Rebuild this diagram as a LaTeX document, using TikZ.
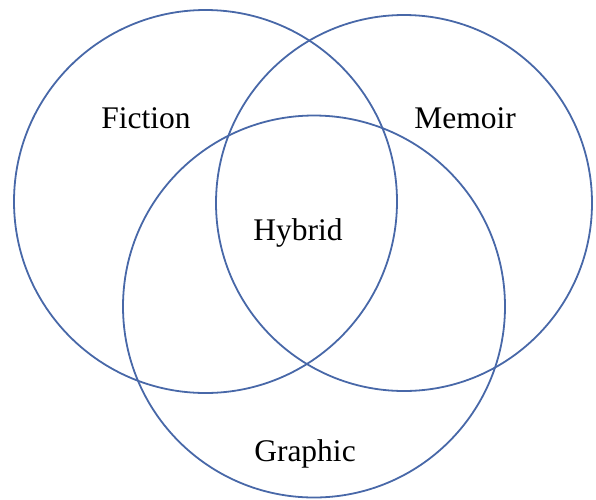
\documentclass[tikz,border=0pt]{standalone}
\usepackage{fontspec}
\setmainfont{Liberation Serif}
\definecolor{ringblue}{RGB}{72,104,168}
\begin{document}
\begin{tikzpicture}[x=1pt,y=-1pt,
  ring/.style={draw=ringblue,line width=1.8pt,circle,inner sep=0pt},
  lbl/.style={font=\fontsize{31.5}{31.5}\selectfont,anchor=base,inner sep=0pt}]
\useasboundingbox (0,0) rectangle (596,499);
\node[ring,minimum size=383pt] (fiction) at (205.5,201.5) {};
\node[ring,minimum size=376pt] (memoir) at (404,203) {};
\node[ring,minimum size=382pt] (graphic) at (314,306.5) {};
\node[lbl] (tfiction) at (146,128) {Fiction};
\node[lbl] (tmemoir) at (465,128) {Memoir};
\node[lbl] (thybrid) at (298,240) {Hybrid};
\node[lbl] (tgraphic) at (305,461) {Graphic};
\end{tikzpicture}
\end{document}
